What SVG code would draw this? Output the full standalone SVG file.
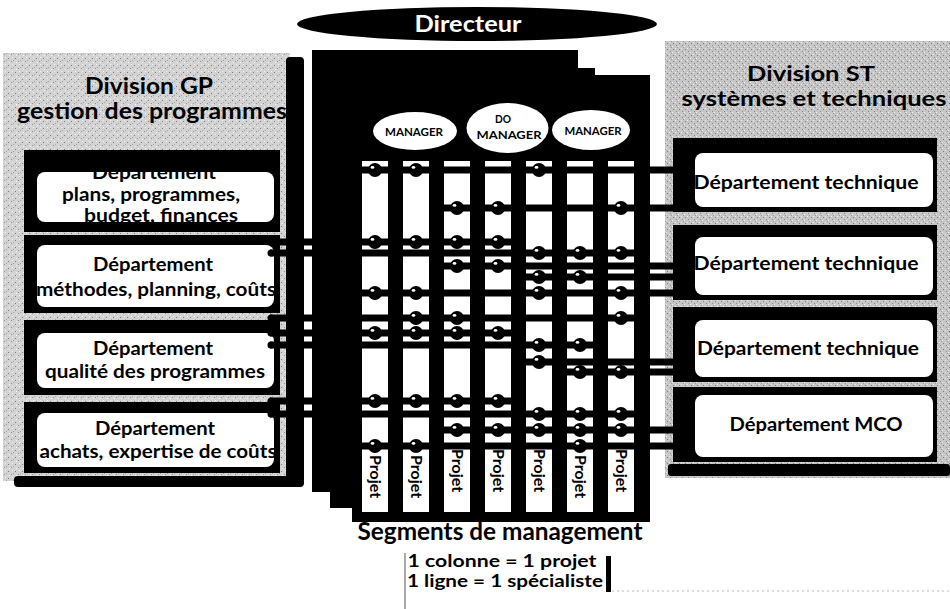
<svg xmlns="http://www.w3.org/2000/svg" xmlns:xlink="http://www.w3.org/1999/xlink" width="950" height="609" viewBox="0 0 950 609">
<style>
  text { font-family: Lato, "Open Sans", "DejaVu Sans", sans-serif; font-weight: bold; fill: #000; }
  .title { font-size: 22px; text-anchor: middle; }
  .dept { font-size: 19px; text-anchor: middle; }
  .mgr { font-size: 11.5px; text-anchor: middle; }
  .proj { font-size: 16px; }
  .band { fill: #000; }
  .inner { fill: #fff; }
  .col { fill: #fff; }
  .row { stroke: #000; stroke-width: 7; fill: none; }
  .page { fill: #000; }
</style>
<defs>
  <pattern id="texL" width="7" height="7" patternUnits="userSpaceOnUse">
    <rect width="7" height="7" fill="#d3d3d3"/>
    <rect x="1" y="2" width="1" height="1" fill="#7d7d7d"/>
    <rect x="4" y="5" width="1" height="1" fill="#939393"/>
    <rect x="5" y="1" width="1" height="1" fill="#f2f2f2"/>
    <rect x="2" y="6" width="1" height="1" fill="#f5f5f5"/>
    <rect x="6" y="4" width="1" height="1" fill="#a5a5a5"/>
  </pattern>
  <pattern id="texR" width="6" height="6" patternUnits="userSpaceOnUse">
    <rect width="6" height="6" fill="#c6c6c6"/>
    <rect x="1" y="1" width="1" height="1" fill="#7a7a7a"/>
    <rect x="4" y="3" width="1" height="1" fill="#8a8a8a"/>
    <rect x="3" y="0" width="1" height="1" fill="#ececec"/>
    <rect x="0" y="4" width="1" height="1" fill="#efefef"/>
    <rect x="5" y="5" width="1" height="1" fill="#9a9a9a"/>
  </pattern>
  <g id="dot">
    <circle r="7" fill="#000"/>
    <ellipse cx="-2.5" cy="-2.6" rx="1.9" ry="1.4" fill="#fff"/>
  </g>
  <circle id="sdot" r="3.5" fill="#000"/>
</defs>

<rect width="950" height="609" fill="#fff"/>

<!-- Director -->
<g id="directeur">
  <ellipse cx="477" cy="24" rx="180" ry="17" fill="#000"/>
  <text x="468" y="32" font-size="22" text-anchor="middle" style="fill:#fff" textLength="107" lengthAdjust="spacingAndGlyphs">Directeur</text>
</g>

<!-- Left division -->
<g id="division-gp">
  <rect x="3" y="53" width="287" height="428" fill="url(#texL)"/>
  <rect x="286" y="57" width="18" height="428" rx="4" fill="#000"/>
  <rect x="14" y="476" width="290" height="11" rx="4" fill="#000"/>
  <text class="title" x="149" y="94" textLength="128" lengthAdjust="spacingAndGlyphs">Division GP</text>
  <text class="title" x="152" y="119" textLength="270" lengthAdjust="spacingAndGlyphs">gestion des programmes</text>
</g>
<g id="dept-plans">
  <rect class="band" x="24" y="150" width="256" height="82"/>
  <rect class="inner" x="37" y="172" width="237" height="50" rx="8"/>
  <text class="dept" x="154" y="179" textLength="124" lengthAdjust="spacingAndGlyphs">Département</text>
  <rect class="band" x="24" y="150" width="256" height="22"/>
  <text class="dept" x="151" y="201" textLength="178" lengthAdjust="spacingAndGlyphs">plans, programmes,</text>
  <text class="dept" x="161" y="222" textLength="154" lengthAdjust="spacingAndGlyphs">budget, finances</text>
</g>
<g id="dept-methodes">
  <rect class="band" x="24" y="235" width="256" height="78"/>
  <rect class="inner" x="37" y="245" width="237" height="62" rx="8"/>
  <text class="dept" x="153" y="271" textLength="120" lengthAdjust="spacingAndGlyphs">Département</text>
  <text class="dept" x="156" y="296" textLength="240" lengthAdjust="spacingAndGlyphs">méthodes, planning, coûts</text>
</g>
<g id="dept-qualite">
  <rect class="band" x="24" y="320" width="256" height="75"/>
  <rect class="inner" x="37" y="333" width="237" height="55" rx="8"/>
  <text class="dept" x="153" y="355" textLength="120" lengthAdjust="spacingAndGlyphs">Département</text>
  <text class="dept" x="155" y="378" textLength="220" lengthAdjust="spacingAndGlyphs">qualité des programmes</text>
</g>
<g id="dept-achats">
  <rect class="band" x="24" y="402" width="256" height="71"/>
  <rect class="inner" x="37" y="413" width="237" height="54" rx="8"/>
  <text class="dept" x="155" y="435" textLength="120" lengthAdjust="spacingAndGlyphs">Département</text>
  <text class="dept" x="158" y="458" textLength="237" lengthAdjust="spacingAndGlyphs">achats, expertise de coûts</text>
</g>

<!-- Right division -->
<g id="division-st">
  <rect x="665" y="41" width="285" height="437" fill="url(#texR)"/>
  <rect x="668" y="464" width="282" height="12" rx="3" fill="#000"/>
  <text x="811" y="81" font-size="21" text-anchor="middle" textLength="128" lengthAdjust="spacingAndGlyphs">Division ST</text>
  <text x="814" y="106" font-size="21" text-anchor="middle" textLength="265" lengthAdjust="spacingAndGlyphs">systèmes et techniques</text>
</g>
<g id="dept-tech-1">
  <rect class="band" x="673" y="138" width="264" height="74"/>
  <rect class="inner" x="695" y="153" width="238" height="54" rx="8"/>
  <text class="dept" x="806" y="189" textLength="225" lengthAdjust="spacingAndGlyphs">Département technique</text>
</g>
<g id="dept-tech-2">
  <rect class="band" x="673" y="225" width="264" height="75"/>
  <rect class="inner" x="695" y="237" width="238" height="58" rx="8"/>
  <text class="dept" x="806" y="270" textLength="225" lengthAdjust="spacingAndGlyphs">Département technique</text>
</g>
<g id="dept-tech-3">
  <rect class="band" x="673" y="307" width="264" height="75"/>
  <rect class="inner" x="695" y="320" width="238" height="57" rx="8"/>
  <text class="dept" x="808" y="355" textLength="222" lengthAdjust="spacingAndGlyphs">Département technique</text>
</g>
<g id="dept-mco">
  <rect class="band" x="673" y="387" width="264" height="75"/>
  <rect class="inner" x="695" y="395" width="238" height="62" rx="8"/>
  <text class="dept" x="816" y="431" textLength="173" lengthAdjust="spacingAndGlyphs">Département MCO</text>
</g>

<!-- Stack of management segments -->
<g id="segments">
  <rect class="page" x="312" y="50" width="266" height="442"/>
  <rect class="page" x="330" y="68" width="265" height="440"/>
  <rect class="page" x="352" y="75" width="298" height="447"/>
  <rect class="col" x="362" y="161" width="26" height="351"/>
  <rect class="col" x="403" y="161" width="26" height="351"/>
  <rect class="col" x="444" y="161" width="26" height="351"/>
  <rect class="col" x="485" y="161" width="26" height="351"/>
  <rect class="col" x="526" y="161" width="26" height="351"/>
  <rect class="col" x="567" y="161" width="26" height="351"/>
  <rect class="col" x="608" y="161" width="26" height="351"/>
  <text class="proj" transform="translate(370,455) rotate(90)">Projet</text>
  <text class="proj" transform="translate(411,455) rotate(90)">Projet</text>
  <text class="proj" transform="translate(452,449) rotate(90)">Projet</text>
  <text class="proj" transform="translate(493,449) rotate(90)">Projet</text>
  <text class="proj" transform="translate(534,449) rotate(90)">Projet</text>
  <text class="proj" transform="translate(575,455) rotate(90)">Projet</text>
  <text class="proj" transform="translate(616,449) rotate(90)">Projet</text>
</g>

<!-- Connectors: one line per specialist -->
<g id="connectors">
  <line class="row" x1="358" y1="170" x2="690" y2="170"/>
  <line class="row" x1="440" y1="208" x2="690" y2="208"/>
  <line class="row" x1="270" y1="242" x2="515" y2="242"/>
  <line class="row" x1="270" y1="253" x2="638" y2="253"/>
  <line class="row" x1="440" y1="266" x2="690" y2="266"/>
  <line class="row" x1="522" y1="277" x2="690" y2="277"/>
  <line class="row" x1="358" y1="293" x2="690" y2="293"/>
  <line class="row" x1="270" y1="318" x2="638" y2="318"/>
  <line class="row" x1="270" y1="333" x2="515" y2="333"/>
  <line class="row" x1="270" y1="345" x2="597" y2="345"/>
  <line class="row" x1="522" y1="362" x2="690" y2="362"/>
  <line class="row" x1="563" y1="372" x2="690" y2="372"/>
  <line class="row" x1="270" y1="401" x2="515" y2="401"/>
  <line class="row" x1="270" y1="414" x2="638" y2="414"/>
  <line class="row" x1="440" y1="430" x2="690" y2="430"/>
  <line class="row" x1="358" y1="446" x2="690" y2="446"/>

  <use xlink:href="#dot" x="375" y="170"/><use xlink:href="#dot" x="416" y="170"/><use xlink:href="#dot" x="539" y="170"/>
  <use xlink:href="#dot" x="457" y="208"/><use xlink:href="#dot" x="498" y="208"/><use xlink:href="#dot" x="621" y="208"/>
  <use xlink:href="#dot" x="375" y="242"/><use xlink:href="#dot" x="416" y="242"/><use xlink:href="#dot" x="457" y="242"/><use xlink:href="#dot" x="498" y="242"/>
  <use xlink:href="#dot" x="539" y="253"/><use xlink:href="#dot" x="580" y="253"/><use xlink:href="#dot" x="621" y="253"/>
  <use xlink:href="#dot" x="457" y="266"/><use xlink:href="#dot" x="498" y="266"/>
  <use xlink:href="#dot" x="539" y="277"/><use xlink:href="#dot" x="580" y="277"/>
  <use xlink:href="#dot" x="375" y="293"/><use xlink:href="#dot" x="416" y="293"/><use xlink:href="#dot" x="539" y="293"/><use xlink:href="#dot" x="621" y="293"/>
  <use xlink:href="#dot" x="416" y="318"/><use xlink:href="#dot" x="457" y="318"/><use xlink:href="#dot" x="621" y="318"/>
  <use xlink:href="#dot" x="375" y="333"/><use xlink:href="#dot" x="416" y="333"/><use xlink:href="#dot" x="457" y="333"/><use xlink:href="#dot" x="498" y="333"/>
  <use xlink:href="#dot" x="539" y="345"/><use xlink:href="#dot" x="580" y="345"/>
  <use xlink:href="#dot" x="539" y="362"/>
  <use xlink:href="#dot" x="580" y="372"/><use xlink:href="#dot" x="621" y="372"/>
  <use xlink:href="#dot" x="375" y="401"/><use xlink:href="#dot" x="416" y="401"/><use xlink:href="#dot" x="457" y="401"/><use xlink:href="#dot" x="498" y="401"/>
  <use xlink:href="#dot" x="539" y="414"/><use xlink:href="#dot" x="580" y="414"/><use xlink:href="#dot" x="621" y="414"/>
  <use xlink:href="#dot" x="457" y="430"/><use xlink:href="#dot" x="498" y="430"/><use xlink:href="#dot" x="539" y="430"/><use xlink:href="#dot" x="580" y="430"/><use xlink:href="#dot" x="621" y="430"/>
  <use xlink:href="#dot" x="375" y="446"/><use xlink:href="#dot" x="416" y="446"/><use xlink:href="#dot" x="580" y="446"/>

  <use xlink:href="#sdot" x="271" y="242"/><use xlink:href="#sdot" x="271" y="253"/>
  <use xlink:href="#sdot" x="271" y="318"/><use xlink:href="#sdot" x="271" y="333"/><use xlink:href="#sdot" x="271" y="345"/>
  <use xlink:href="#sdot" x="271" y="401"/><use xlink:href="#sdot" x="271" y="414"/>
  <use xlink:href="#sdot" x="690" y="170"/><use xlink:href="#sdot" x="690" y="208"/>
  <use xlink:href="#sdot" x="690" y="266"/><use xlink:href="#sdot" x="690" y="277"/><use xlink:href="#sdot" x="690" y="293"/>
  <use xlink:href="#sdot" x="690" y="362"/><use xlink:href="#sdot" x="690" y="372"/>
  <use xlink:href="#sdot" x="690" y="430"/><use xlink:href="#sdot" x="690" y="446"/>
</g>

<!-- Managers -->
<g id="manager-1">
  <ellipse cx="415" cy="131" rx="42" ry="19" fill="#fff"/>
  <text class="mgr" x="414" y="136" textLength="58" lengthAdjust="spacingAndGlyphs">MANAGER</text>
</g>
<g id="do-manager">
  <ellipse cx="507.5" cy="128" rx="41" ry="25" fill="#fff"/>
  <text class="mgr" x="503" y="123" textLength="16" lengthAdjust="spacingAndGlyphs">DO</text>
  <text class="mgr" x="509" y="139" textLength="65" lengthAdjust="spacingAndGlyphs">MANAGER</text>
</g>
<g id="manager-2">
  <ellipse cx="591" cy="130" rx="39" ry="20" fill="#fff"/>
  <text class="mgr" x="593" y="135" textLength="57" lengthAdjust="spacingAndGlyphs">MANAGER</text>
</g>

<!-- Caption and legend -->
<g id="caption">
  <text x="500" y="540" font-size="24" text-anchor="middle" textLength="285" lengthAdjust="spacingAndGlyphs">Segments de management</text>
</g>
<g id="legend">
  <line x1="405" y1="553" x2="405" y2="609" stroke="#555" stroke-width="1"/>
  <rect x="606" y="556" width="5" height="36" fill="#000"/>
  <line x1="612" y1="591" x2="950" y2="591" stroke="#bbb" stroke-width="1" stroke-dasharray="2 3"/>
  <text x="502" y="567" font-size="16.5" text-anchor="middle" textLength="189" lengthAdjust="spacingAndGlyphs">1 colonne = 1 projet</text>
  <text x="505" y="587" font-size="16.5" text-anchor="middle" textLength="196" lengthAdjust="spacingAndGlyphs">1 ligne = 1 spécialiste</text>
</g>
</svg>
